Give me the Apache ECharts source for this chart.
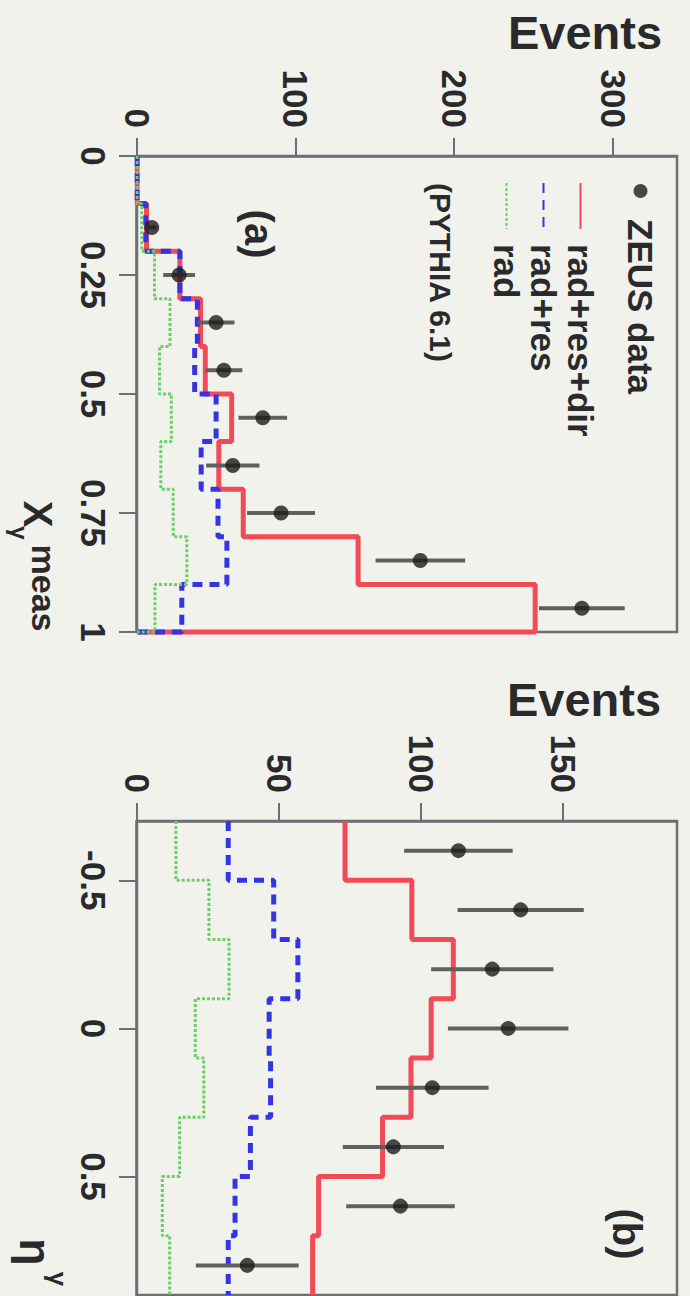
<!DOCTYPE html>
<html>
<head>
<meta charset="utf-8">
<script src="https://cdn.jsdelivr.net/npm/echarts@6/dist/echarts.min.js"></script>
<style>
  html, body { margin: 0; padding: 0; width: 690px; height: 1296px; overflow: hidden; background: #f2f2ec; }
  /* the figure is laid out landscape and turned a quarter clockwise onto the page */
  #chart { position: absolute; left: 690px; top: 0; width: 1300px; height: 690px;
           transform-origin: 0 0; transform: rotate(90deg); }
</style>
</head>
<body>
<div id="chart"></div>
<script>
// ---- panel (a): x_gamma^meas distribution ----
const xgEdges       = [0, 0.1, 0.2, 0.3, 0.4, 0.5, 0.6, 0.7, 0.8, 0.9, 1.0];
const xgRadResDir   = [0, 6, 27, 40, 43, 59.6, 51.5, 66.9, 139.2, 250.7];
const xgRadRes      = [0, 5.5, 27, 38, 36.3, 49.8, 40.4, 51, 56.6, 28.2];
const xgRad         = [0, 3, 11, 20.8, 14.2, 21.6, 15, 22.8, 31.4, 11.3];
const xgDataX       = [0.15, 0.25, 0.35, 0.45, 0.55, 0.65, 0.75, 0.85, 0.95];
const xgDataY       = [9.3, 26.5, 49.8, 54.7, 79.2, 60.3, 90.7, 178.4, 280.1];
const xgDataErr     = [3, 10, 11.6, 11.6, 15.3, 16.8, 21.4, 28.2, 27];
const xgTicks       = [0, 0.25, 0.5, 0.75, 1];
const xgEventTicks  = [0, 100, 200, 300];

// ---- panel (b): eta^gamma distribution ----
const etaEdges      = [-0.7, -0.5, -0.3, -0.1, 0.1, 0.3, 0.5, 0.7, 0.9];
const etaRadResDir  = [73.2, 96.7, 111.3, 103.5, 96.4, 86.4, 63.9, 61.8];
const etaRadRes     = [32.1, 48.1, 56.6, 46.5, 47, 39.9, 34.5, 32.1];
const etaRad        = [13.7, 25.3, 32.4, 20.5, 23.5, 15, 8.9, 11.5];
const etaDataX      = [-0.6, -0.4, -0.2, 0, 0.2, 0.4, 0.6, 0.8];
const etaDataY      = [113.1, 135, 125, 130.6, 103.9, 90.2, 92.7, 38.8];
const etaDataErr    = [19.1, 22.2, 21.5, 21.2, 19.8, 17.8, 19.1, 18.1];
const etaTicks      = [-0.5, 0, 0.5];
const etaEventTicks = [0, 50, 100, 150];

const FONT = 'Liberation Sans, Arial, Helvetica, sans-serif';
const WEIGHT = 'bold';
const INK = '#2a2a2c';
const FRAME = '#6e6e78';
const RED = '#f04b57';
const BLUE = '#3434e2';
const GREEN = '#6ad066';

// histogram outline: one point per bin edge; optionally closed back to zero at the upper edge
function stepPoints(edges, vals, close) {
  const pts = [];
  for (let i = 0; i < vals.length; i++) pts.push([edges[i], vals[i]]);
  pts.push([edges[edges.length - 1], vals[vals.length - 1]]);
  if (close) pts.push([edges[edges.length - 1], 0]);
  return pts;
}
function points(xs, ys, errs) {
  return xs.map((x, i) => errs ? [x, ys[i], errs[i]] : [x, ys[i]]);
}

function histSeries(name, idx, edges, vals, close, color, width, type, z) {
  return {
    name, type: 'line', step: 'end', xAxisIndex: idx, yAxisIndex: idx,
    data: stepPoints(edges, vals, close), symbol: 'none', showSymbol: false,
    lineStyle: { color, width, type }, itemStyle: { color },
    animation: false, z, silent: true
  };
}
function errSeries(idx, xs, ys, errs) {
  return {
    type: 'custom', xAxisIndex: idx, yAxisIndex: idx, z: 8, silent: true, animation: false,
    data: points(xs, ys, errs),
    renderItem(params, api) {
      const x = api.value(0), y = api.value(1), e = api.value(2);
      const p1 = api.coord([x, y - e]);
      const p2 = api.coord([x, y + e]);
      return { type: 'line', shape: { x1: p1[0], y1: p1[1], x2: p2[0], y2: p2[1] },
               style: { stroke: '#606060', lineWidth: 4 } };
    }
  };
}
function dataSeries(idx, xs, ys) {
  return {
    name: 'ZEUS data', type: 'scatter', xAxisIndex: idx, yAxisIndex: idx,
    data: points(xs, ys), symbol: 'circle', symbolSize: 15, symbolKeepAspect: true,
    itemStyle: { color: '#1c1c1c' }, z: 9, silent: true, animation: false
  };
}

function xAxisCfg(idx, min, max, ticks) {
  return {
    type: 'value', gridIndex: idx, min, max,
    axisLine: { show: true, onZero: false, lineStyle: { color: FRAME, width: 2.5 } },
    axisTick: { show: true, inside: false, length: 18, customValues: ticks, lineStyle: { color: FRAME, width: 2 } },
    axisLabel: { customValues: ticks, fontSize: 35, fontWeight: WEIGHT, fontFamily: FONT, color: INK, margin: 26 },
    splitLine: { show: false }
  };
}
function yAxisCfg(idx, max, ticks) {
  return {
    type: 'value', gridIndex: idx, min: 0, max,
    axisLine: { show: true, onZero: false, lineStyle: { color: FRAME, width: 2.5 } },
    axisTick: { show: true, inside: false, length: 18, customValues: ticks, lineStyle: { color: FRAME, width: 2 } },
    axisLabel: { customValues: ticks, fontSize: 35, fontWeight: WEIGHT, fontFamily: FONT, color: INK, margin: 28 },
    splitLine: { show: false }
  };
}

function txt(text, x, y, size, extra) {
  return Object.assign({
    type: 'text', x, y, silent: true,
    style: { text, fontSize: size, fontWeight: WEIGHT, fontFamily: FONT, fill: INK,
             align: 'center', verticalAlign: 'middle', textAlign: 'center', textVerticalAlign: 'middle' }
  }, extra || {});
}

const legendText = { fontSize: 35, fontWeight: WEIGHT, fontFamily: FONT, color: INK };

const option = {
  backgroundColor: '#f2f2ec',
  animation: false,
  grid: [
    { left: 156, top: 13, width: 476, height: 540, show: true, borderColor: FRAME, borderWidth: 2.5, backgroundColor: 'transparent' },
    { left: 821, top: 13, width: 474, height: 540, show: true, borderColor: FRAME, borderWidth: 2.5, backgroundColor: 'transparent' }
  ],
  xAxis: [ xAxisCfg(0, 0, 1, xgTicks), xAxisCfg(1, -0.7, 0.9, etaTicks) ],
  yAxis: [ yAxisCfg(0, 340, xgEventTicks), yAxisCfg(1, 190, etaEventTicks) ],
  legend: [
    { data: [{ name: 'ZEUS data', icon: 'circle' }], left: 184, top: 32, padding: 0, orient: 'vertical',
      itemWidth: 46, itemHeight: 14, selectedMode: false, textStyle: legendText },
    { data: ['rad+res+dir', 'rad+res', 'rad'], left: 182, top: 92, padding: 0, orient: 'vertical',
      itemWidth: 46, itemHeight: 14, itemGap: 2, selectedMode: false,
      itemStyle: { opacity: 0 },
      textStyle: Object.assign({ padding: [0, 0, 0, 10] }, legendText) }
  ],
  series: [
    histSeries('rad+res+dir', 0, xgEdges, xgRadResDir, true, RED, 5, 'solid', 3),
    histSeries('rad+res', 0, xgEdges, xgRadRes, true, BLUE, 5, [10, 7], 4),
    histSeries('rad', 0, xgEdges, xgRad, true, GREEN, 3, [3, 2], 5),
    errSeries(0, xgDataX, xgDataY, xgDataErr),
    dataSeries(0, xgDataX, xgDataY),
    histSeries('rad+res+dir', 1, etaEdges, etaRadResDir, false, RED, 5, 'solid', 3),
    histSeries('rad+res', 1, etaEdges, etaRadRes, false, BLUE, 5, [10, 7], 4),
    histSeries('rad', 1, etaEdges, etaRad, false, GREEN, 3, [3, 2], 5),
    errSeries(1, etaDataX, etaDataY, etaDataErr),
    dataSeries(1, etaDataX, etaDataY)
  ],
  graphic: [
    // axis titles
    txt('Events', 32, 105, 47, { rotation: Math.PI / 2 }),
    txt('Events', 699, 106, 47, { rotation: Math.PI / 2 }),
    txt('X', 514, 652, 40),
    txt('γ', 533, 671, 24),
    txt('meas', 588, 646, 34),
    txt('η', 1252, 655, 44),
    txt('γ', 1279, 632, 26),
    // panel tags and generator note
    txt('(a)', 234, 431, 40),
    txt('(b)', 1234, 63, 40),
    { type: 'text', x: 183, y: 250, silent: true,
      style: { text: '(PYTHIA 6.1)', fontSize: 30, fontWeight: WEIGHT, fontFamily: FONT, fill: INK,
               align: 'left', verticalAlign: 'middle', textAlign: 'left', textVerticalAlign: 'middle' } }
  ]
};

const chart = echarts.init(document.getElementById('chart'), null, { renderer: 'svg', width: 1300, height: 690 });
chart.setOption(option);
</script>
</body>
</html>
